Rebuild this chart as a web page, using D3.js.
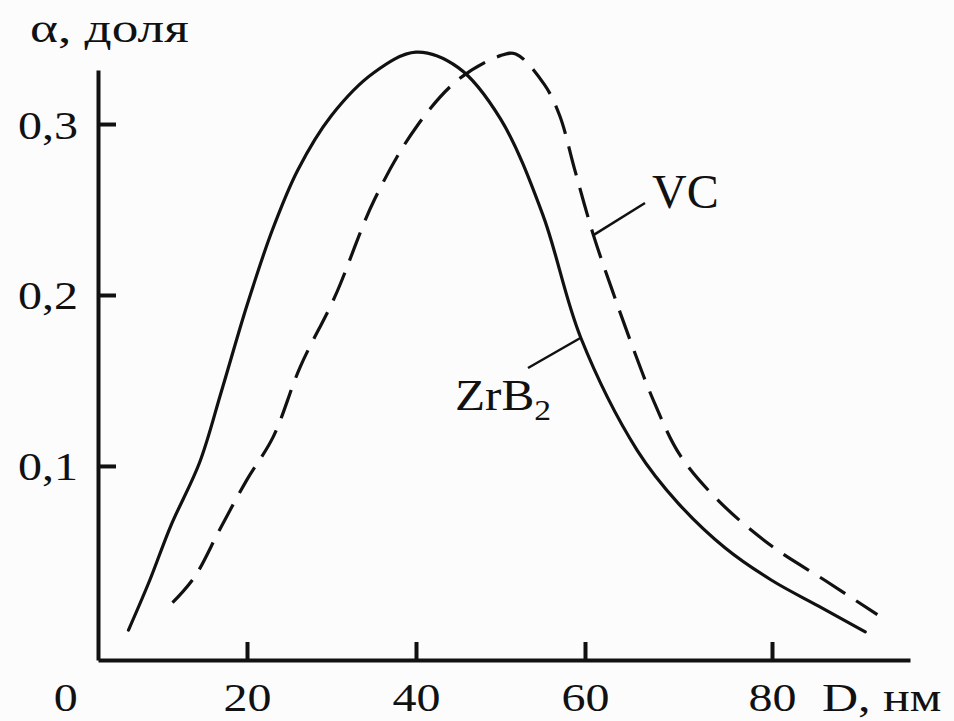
<!DOCTYPE html>
<html>
<head>
<meta charset="utf-8">
<script src="https://cdn.jsdelivr.net/npm/d3@7"></script>
<style>
  html, body { margin: 0; padding: 0; background: #fcfcfc; }
  svg { display: block; }
  text { font-family: "Liberation Serif", "Times New Roman", serif; fill: #111; }
</style>
</head>
<body>
<div id="chart"></div>
<script>
// data
var xTicks = [20, 40, 60, 80];
var xTickLabels = ["20", "40", "60", "80"];
var yTicks = [0.1, 0.2, 0.3];
var yTickLabels = ["0,1", "0,2", "0,3"];

var zrb2_D     = [6, 8.5, 11, 14.4, 17, 20, 23, 26, 30, 35, 40, 45, 50, 55, 59.5, 65.6, 70, 75, 80, 85, 90];
var zrb2_alpha = [0.004, 0.033, 0.065, 0.102, 0.144, 0.194, 0.238, 0.273, 0.305, 0.330, 0.342, 0.333, 0.303, 0.247, 0.175, 0.109, 0.078, 0.052, 0.033, 0.018, 0.003];

var vc_D     = [11.2, 13.8, 16.8, 20, 23.1, 26.3, 30.4, 35.1, 40, 45, 50, 51.8, 55.2, 57.0, 58.8, 60.9, 62.9, 65.0, 67.5, 70.2, 74.4, 80, 85.7, 91.3];
var vc_alpha = [0.020, 0.035, 0.063, 0.092, 0.117, 0.158, 0.199, 0.256, 0.298, 0.326, 0.340, 0.341, 0.323, 0.305, 0.273, 0.235, 0.203, 0.171, 0.136, 0.106, 0.079, 0.053, 0.033, 0.013];

var width = 954, height = 721;
var stretch = 1.2; // the scanned lettering is wider than the font

var svg = d3.select("#chart").append("svg")
            .attr("width", width)
            .attr("height", height);

// the scan's axis is not quite even, so the scale is piecewise
var xScale = d3.scaleLinear()
               .domain([2.4, 20, 40, 60, 80, 94.8])
               .range([98, 247, 416, 585, 772, 910]);

var yScale = d3.scaleLinear()
               .domain([-0.0135, 0.3316])
               .range([660, 70]);

var xAxis = d3.axisBottom(xScale)
              .tickValues(xTicks)
              .tickSizeInner(-18)
              .tickSizeOuter(0)
              .tickFormat(function(d, i){ return xTickLabels[i]; });

var yAxis = d3.axisLeft(yScale)
              .tickValues(yTicks)
              .tickSizeInner(-18)
              .tickSizeOuter(0)
              .tickFormat(function(d, i){ return yTickLabels[i]; });

var gx = svg.append("g")
            .attr("transform", "translate(0," + yScale.range()[0] + ")")
            .call(xAxis);

var gy = svg.append("g")
            .attr("transform", "translate(" + xScale.range()[0] + ",0)")
            .call(yAxis);

[gx, gy].forEach(function(g){
	g.attr("font-family", null);
	g.selectAll("path.domain").attr("stroke", "#111").attr("stroke-width", 4);
	g.selectAll(".tick line").attr("stroke", "#111").attr("stroke-width", 4);
	g.selectAll("text").attr("font-size", 40).attr("fill", "#111");
});

gx.selectAll(".tick text")
  .attr("y", 51)
  .attr("dy", null)
  .attr("transform", "scale(" + stretch + ",1)");

gy.selectAll(".tick text")
  .attr("x", 0)
  .attr("dy", "0.35em")
  .attr("transform", "translate(-20,0) scale(" + stretch + ",1)");

// zero at the corner
svg.append("text")
   .attr("font-size", 40)
   .attr("text-anchor", "middle")
   .attr("transform", "translate(" + (xScale(0) - 12) + ",711) scale(" + stretch + ",1)")
   .text("0");

// axis titles
svg.append("text")
   .attr("font-size", 41)
   .attr("transform", "translate(30,42) scale(1.3,1)")
   .text("α, доля");

svg.append("text")
   .attr("font-size", 40)
   .attr("transform", "translate(822,711) scale(1.25,1)")
   .text("D, нм");

var line = d3.line()
             .x(function(d){ return xScale(d[0]); })
             .y(function(d){ return yScale(d[1]); })
             .curve(d3.curveCatmullRom);

var zrb2 = d3.zip(zrb2_D, zrb2_alpha);
var vc = d3.zip(vc_D, vc_alpha);

svg.append("path")
   .attr("d", line(zrb2))
   .attr("fill", "none")
   .attr("stroke", "#111")
   .attr("stroke-width", 3.2)
   .attr("stroke-linecap", "round");

svg.append("path")
   .attr("d", line(vc))
   .attr("fill", "none")
   .attr("stroke", "#111")
   .attr("stroke-width", 3.2)
   .attr("stroke-dasharray", "30,13");

// curve labels with leaders
svg.append("line")
   .attr("x1", xScale(59.5)).attr("y1", yScale(0.175))
   .attr("x2", 528).attr("y2", 368)
   .attr("stroke", "#111").attr("stroke-width", 2.5);

svg.append("line")
   .attr("x1", xScale(60.9)).attr("y1", yScale(0.235))
   .attr("x2", 645).attr("y2", 203)
   .attr("stroke", "#111").attr("stroke-width", 2.5);

var zl = svg.append("text")
            .attr("font-size", 44)
            .attr("transform", "translate(455,410) scale(1.12,1)");
zl.append("tspan").text("ZrB");
zl.append("tspan").attr("font-size", 30).attr("dy", 10).text("2");

svg.append("text")
   .attr("font-size", 48)
   .attr("transform", "translate(652,208)")
   .text("VC");
</script>
</body>
</html>
